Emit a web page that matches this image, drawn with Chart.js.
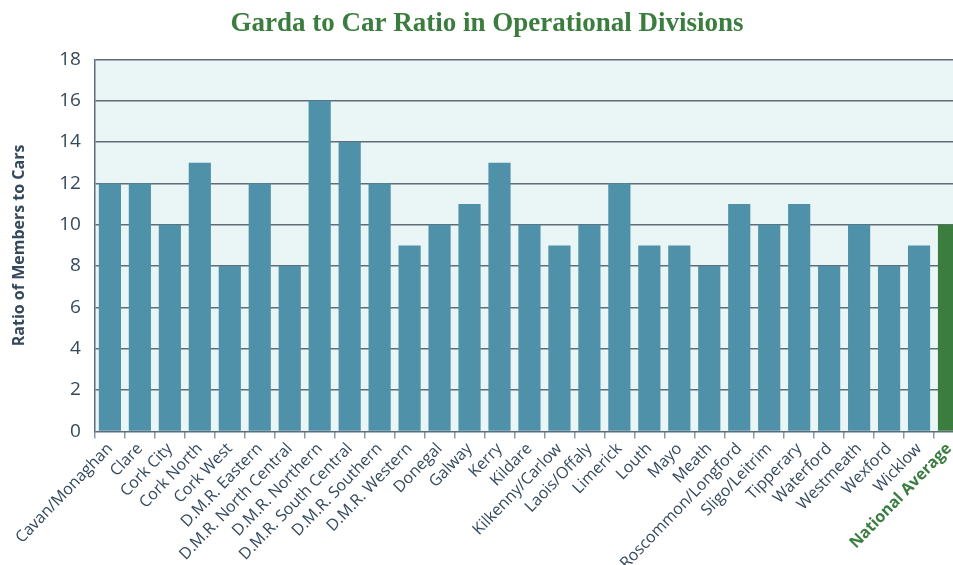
<!DOCTYPE html>
<html>
<head>
<meta charset="utf-8">
<script src="https://cdn.jsdelivr.net/npm/chart.js@4/dist/chart.umd.min.js"></script>
<style>
    html, body { margin: 0; padding: 0; background: #ffffff; overflow: hidden; }
    #wrap { width: 953px; height: 565px; overflow: hidden; }
    #box { width: 970px; height: 574px; position: relative; }
</style>
</head>
<body>
<div id="wrap"><div id="box"><canvas id="ratioChart"></canvas></div></div>
<script>
// Divisions and their garda-to-car ratios
const divisions = ["Cavan/Monaghan", "Clare", "Cork City", "Cork North", "Cork West",
    "D.M.R. Eastern", "D.M.R. North Central", "D.M.R. Northern", "D.M.R. South Central",
    "D.M.R. Southern", "D.M.R. Western", "Donegal", "Galway", "Kerry", "Kildare",
    "Kilkenny/Carlow", "Laois/Offaly", "Limerick", "Louth", "Mayo", "Meath",
    "Roscommon/Longford", "Sligo/Leitrim", "Tipperary", "Waterford", "Westmeath",
    "Wexford", "Wicklow", "National Average"];
const ratios = [12, 12, 10, 13, 8, 12, 8, 16, 14, 12, 9, 10, 11, 13, 10, 9, 10, 12, 9, 9, 8,
    11, 10, 11, 8, 10, 8, 9, 10];
const yTicks = [0, 2, 4, 6, 8, 10, 12, 14, 16, 18];

const teal = '#4e91a9';
const green = '#3a7d3f';
const labelColour = '#34495c';
const gridColour = '#5e6d79';

// National average gets the green bar
const barColours = divisions.map((d) => d === "National Average" ? green : teal);

// Fill the plot area with the pale background
const plotBackground = {
    id: 'plotBackground',
    beforeDraw(chart) {
        const a = chart.chartArea;
        const ctx = chart.ctx;
        ctx.save();
        ctx.fillStyle = '#eaf5f5';
        ctx.fillRect(a.left, a.top, a.right - a.left, a.bottom - a.top);
        ctx.restore();
    }
};

new Chart(document.getElementById('ratioChart'), {
    type: 'bar',
    data: {
        labels: divisions,
        datasets: [{
            data: ratios,
            backgroundColor: barColours,
            borderWidth: 0,
            categoryPercentage: 1,
            barPercentage: 0.74
        }]
    },
    options: {
        responsive: true,
        maintainAspectRatio: false,
        animation: false,
        layout: { padding: { left: 10, right: 6, top: 0, bottom: 0 } },
        plugins: {
            legend: { display: false },
            tooltip: { enabled: false },
            title: {
                display: true,
                text: 'Garda to Car Ratio in Operational Divisions',
                color: green,
                font: { family: 'Liberation Serif', size: 27, weight: 'bold' },
                padding: { top: 8, bottom: 19 }
            }
        },
        scales: {
            x: {
                grid: {
                    offset: true,
                    drawOnChartArea: false,
                    drawTicks: true,
                    tickLength: 7,
                    color: '#8a99a4',
                    lineWidth: 1.5
                },
                border: { display: false },
                ticks: {
                    autoSkip: false,
                    maxRotation: 46,
                    minRotation: 46,
                    padding: 1,
                    color: (ctx) => ctx.index === divisions.length - 1 ? green : labelColour,
                    font: (ctx) => ({
                        family: 'Open Sans',
                        size: 16,
                        weight: ctx.index === divisions.length - 1 ? 'bold' : 'normal'
                    })
                }
            },
            y: {
                min: 0,
                max: 18,
                afterBuildTicks: (axis) => { axis.ticks = yTicks.map((v) => ({ value: v })); },
                grid: {
                    drawTicks: false,
                    color: gridColour,
                    lineWidth: 1.5
                },
                border: { display: true, color: gridColour, width: 1.5 },
                ticks: {
                    padding: 14,
                    color: labelColour,
                    font: { family: 'Open Sans', size: 19 }
                },
                title: {
                    display: true,
                    text: 'Ratio of Members to Cars',
                    color: labelColour,
                    font: { family: 'Open Sans', size: 16, weight: 'bold' },
                    padding: { top: 0, bottom: 16 }
                }
            }
        }
    },
    plugins: [plotBackground]
});
</script>
</body>
</html>
